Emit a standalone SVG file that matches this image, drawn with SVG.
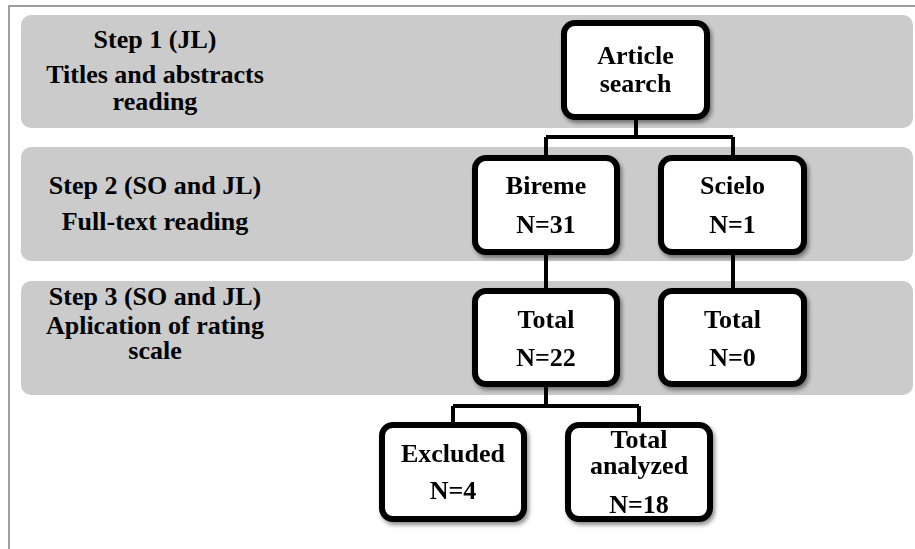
<svg xmlns="http://www.w3.org/2000/svg" width="915" height="549" viewBox="0 0 915 549">
<defs>
<filter id="sh" x="-20%" y="-20%" width="140%" height="140%">
<feGaussianBlur in="SourceAlpha" stdDeviation="2"/>
<feOffset dx="2" dy="3" result="b"/>
<feComponentTransfer><feFuncA type="linear" slope="0.45"/></feComponentTransfer>
<feMerge><feMergeNode/><feMergeNode in="SourceGraphic"/></feMerge>
</filter>
</defs>
<style>
.band{fill:#cbcbcb}
.box{fill:#fff;stroke:#000;stroke-width:6}
.t{font-family:"Liberation Serif","Times New Roman",serif;font-weight:bold;font-size:26px;fill:#000;text-anchor:middle}
.c{stroke:#000;stroke-width:4;fill:none}
</style>
<rect width="915" height="549" fill="#fff"/>
<path d="M9,549 V6 H915" fill="none" stroke="#808080" stroke-width="1.5"/>
<g id="step1">
<rect class="band" x="21" y="15" width="892" height="113" rx="10"/>
<text class="t" x="155" y="48">Step 1 (JL)</text>
<text class="t" x="155" y="83">Titles and abstracts</text>
<text class="t" x="155" y="110">reading</text>
</g>
<g id="step2">
<rect class="band" x="21" y="147" width="892" height="114" rx="10"/>
<text class="t" x="155" y="194">Step 2 (SO and JL)</text>
<text class="t" x="155" y="230">Full-text reading</text>
</g>
<g id="step3">
<rect class="band" x="21" y="281" width="892" height="114" rx="10"/>
<text class="t" x="155" y="305">Step 3 (SO and JL)</text>
<text class="t" x="155" y="334">Aplication of rating</text>
<text class="t" x="155" y="359">scale</text>
</g>
<g id="connectors">
<path class="c" d="M636,120 V137 M546,137 H733 M546,137 V156 M733,137 V156"/>
<path class="c" d="M546,255 V289 M733,255 V289"/>
<path class="c" d="M546,387 V406 M453,406 H639 M453,406 V423 M639,406 V423"/>
</g>
<g id="article" filter="url(#sh)">
<rect class="box" x="564" y="23" width="143" height="94" rx="11"/>
<text class="t" x="635.5" y="64">Article</text>
<text class="t" x="635.5" y="92">search</text>
</g>
<g id="bireme" filter="url(#sh)">
<rect class="box" x="475" y="158" width="142" height="94" rx="11"/>
<text class="t" x="546" y="194">Bireme</text>
<text class="t" x="546" y="233">N=31</text>
</g>
<g id="scielo" filter="url(#sh)">
<rect class="box" x="661" y="158" width="143" height="94" rx="11"/>
<text class="t" x="732.5" y="194">Scielo</text>
<text class="t" x="732.5" y="233">N=1</text>
</g>
<g id="total22" filter="url(#sh)">
<rect class="box" x="475" y="291" width="142" height="93" rx="11"/>
<text class="t" x="546" y="328">Total</text>
<text class="t" x="546" y="366">N=22</text>
</g>
<g id="total0" filter="url(#sh)">
<rect class="box" x="661" y="291" width="143" height="93" rx="11"/>
<text class="t" x="732.5" y="328">Total</text>
<text class="t" x="732.5" y="366">N=0</text>
</g>
<g id="excluded" filter="url(#sh)">
<rect class="box" x="382" y="425" width="142" height="94" rx="11"/>
<text class="t" x="453" y="462">Excluded</text>
<text class="t" x="453" y="499">N=4</text>
</g>
<g id="analyzed" filter="url(#sh)">
<rect class="box" x="568" y="425" width="142" height="94" rx="11"/>
<text class="t" x="639" y="448">Total</text>
<text class="t" x="639" y="474">analyzed</text>
<text class="t" x="639" y="513">N=18</text>
</g>
</svg>
